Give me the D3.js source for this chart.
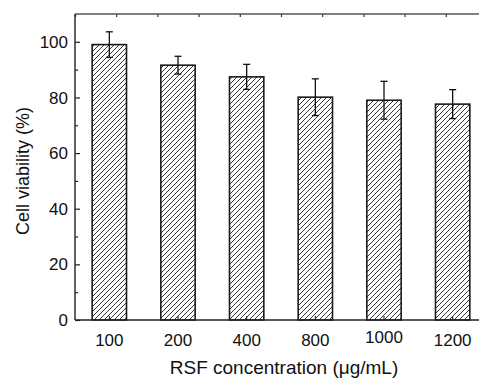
<!DOCTYPE html>
<html>
<head>
<meta charset="utf-8">
<script src="https://cdn.jsdelivr.net/npm/d3@7"></script>
<style>
  body { margin: 0; background: #fff; }
  svg { display: block; overflow: hidden; }
  text { font-family: "Liberation Sans", Arial, sans-serif; fill: #111; }
</style>
</head>
<body>
<div id="chart"></div>
<script>
// data
var concentrations = ["100", "200", "400", "800", "1000", "1200"];
var viability = [99.0, 91.6, 87.4, 80.1, 79.0, 77.6];
var errors = [4.6, 3.2, 4.5, 6.6, 6.8, 5.2];
var yTicks = [0, 20, 40, 60, 80, 100];
var yMinor = [10, 30, 50, 70, 90];

var margin = {top: 14, right: 0, bottom: 58, left: 75},
    plotW = 412,
    plotH = 306;

var svgRoot = d3.select("#chart")
  .append("svg")
    .attr("width", 479)
    .attr("height", 378);

// hatch pattern for the bars
var defs = svgRoot.append("defs");
var pat = defs.append("pattern")
    .attr("id", "hatch")
    .attr("patternUnits", "userSpaceOnUse")
    .attr("width", 5)
    .attr("height", 5);
pat.append("rect").attr("width", 5).attr("height", 5).attr("fill", "#fff");
pat.append("path")
    .attr("d", "M-1,1 l2,-2 M0,5 l5,-5 M4,6 l2,-2")
    .attr("stroke", "#111")
    .attr("stroke-width", 0.85);

var svg = svgRoot.append("g")
    .attr("transform", "translate(" + margin.left + "," + margin.top + ")");

var x = d3.scaleBand()
    .domain(concentrations)
    .range([0, plotW])
    .paddingInner(0.5)
    .paddingOuter(0.25);

var y = d3.scaleLinear()
    .domain([0, 110])
    .range([plotH, 0]);

// top axis: plain linear ticks, no labels
var xTop = d3.scaleLinear().domain([0, 10]).range([0, plotW]);

// bars
svg.append("g")
  .selectAll("rect")
  .data(concentrations)
  .enter()
  .append("rect")
    .attr("x", function (d) { return x(d); })
    .attr("y", function (d, i) { return y(viability[i]); })
    .attr("width", x.bandwidth())
    .attr("height", function (d, i) { return plotH - y(viability[i]); })
    .attr("fill", "url(#hatch)")
    .attr("stroke", "#1a1a1a")
    .attr("stroke-width", 1.6);

// error bars
var eb = svg.append("g")
  .selectAll("g")
  .data(concentrations)
  .enter()
  .append("g")
    .attr("stroke", "#111")
    .attr("stroke-width", 1.3);
eb.append("line")
    .attr("x1", function (d) { return x(d) + x.bandwidth() / 2; })
    .attr("x2", function (d) { return x(d) + x.bandwidth() / 2; })
    .attr("y1", function (d, i) { return y(viability[i] + errors[i]); })
    .attr("y2", function (d, i) { return y(viability[i] - errors[i]); });
eb.append("line")
    .attr("x1", function (d) { return x(d) + x.bandwidth() / 2 - 3.5; })
    .attr("x2", function (d) { return x(d) + x.bandwidth() / 2 + 3.5; })
    .attr("y1", function (d, i) { return y(viability[i] + errors[i]); })
    .attr("y2", function (d, i) { return y(viability[i] + errors[i]); });
eb.append("line")
    .attr("x1", function (d) { return x(d) + x.bandwidth() / 2 - 3.5; })
    .attr("x2", function (d) { return x(d) + x.bandwidth() / 2 + 3.5; })
    .attr("y1", function (d, i) { return y(viability[i] - errors[i]); })
    .attr("y2", function (d, i) { return y(viability[i] - errors[i]); });

// Y axis, ticks pointing inward
var yAxis = svg.append("g")
    .call(d3.axisRight(y).tickValues(yTicks).tickSize(5).tickFormat(""));
yAxis.select(".domain").remove();
yAxis.selectAll("line").attr("stroke", "#222").attr("stroke-width", 1.2);
var yMinorAxis = svg.append("g")
    .call(d3.axisRight(y).tickValues(yMinor).tickSize(3).tickFormat(""));
yMinorAxis.select(".domain").remove();
yMinorAxis.selectAll("line").attr("stroke", "#222").attr("stroke-width", 1.2);

svg.append("g")
  .selectAll("text")
  .data(yTicks)
  .enter()
  .append("text")
    .attr("x", -7)
    .attr("y", function (d) { return y(d); })
    .attr("dy", "0.36em")
    .style("text-anchor", "end")
    .style("font-size", "17px")
    .text(function (d) { return d; });

// X axis, small inward ticks at bar centres
var xAxis = svg.append("g")
    .attr("transform", "translate(0," + plotH + ")")
    .call(d3.axisTop(x).tickSize(4).tickFormat(""));
xAxis.select(".domain").remove();
xAxis.selectAll("line").attr("stroke", "#222").attr("stroke-width", 1.1);

svg.append("g")
  .selectAll("text")
  .data(concentrations)
  .enter()
  .append("text")
    .attr("x", function (d) { return x(d) + x.bandwidth() / 2; })
    .attr("y", function (d) { return plotH + (d == "1000" ? 22.5 : 25.8); })
    .style("text-anchor", "middle")
    .style("font-size", "17px")
    .text(function (d) { return d; });

// top axis
var topAxis = svg.append("g")
    .call(d3.axisBottom(xTop).ticks(10).tickSize(3).tickFormat(""));
topAxis.select(".domain").remove();
topAxis.selectAll("line").attr("stroke", "#333").attr("stroke-width", 1.2);

// frame lines
svg.append("line")
    .attr("x1", 0).attr("x2", plotW)
    .attr("y1", 0).attr("y2", 0)
    .attr("stroke", "#555").attr("stroke-width", 1.4);
svg.append("line")
    .attr("x1", 0).attr("x2", plotW)
    .attr("y1", plotH).attr("y2", plotH)
    .attr("stroke", "#222").attr("stroke-width", 1.4);
svg.append("line")
    .attr("x1", 0).attr("x2", 0)
    .attr("y1", 0).attr("y2", plotH)
    .attr("stroke", "#222").attr("stroke-width", 1.4);

// axis titles
svg.append("text")
    .attr("transform", "translate(" + (plotW / 2 + 3) + "," + (plotH + 54) + ")")
    .style("text-anchor", "middle")
    .style("font-size", "19px")
    .text("RSF concentration (\u03bcg/mL)");

svg.append("text")
    .attr("transform", "rotate(-90)")
    .attr("y", 29 - margin.left)
    .attr("x", -157)
    .style("text-anchor", "middle")
    .style("font-size", "18px")
    .text("Cell viability (%)");
</script>
</body>
</html>
